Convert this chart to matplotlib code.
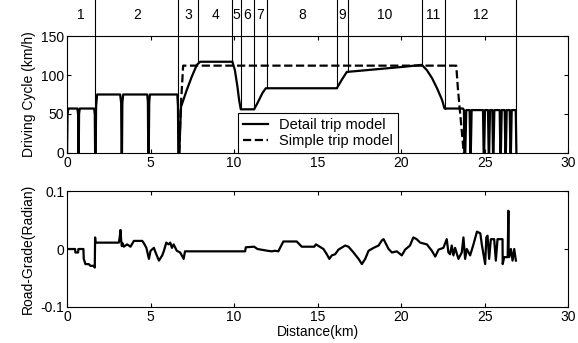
import numpy as np
import matplotlib
matplotlib.use("Agg")
import matplotlib.pyplot as plt

plt.rcParams['font.family'] = ['Liberation Sans', 'DejaVu Sans']

# detail trip model (distance km, speed km/h)
dist_detail = [0.0, 0.03, 0.08, 0.62, 0.66, 0.68, 0.70, 0.72, 0.76,
               1.62, 1.66, 1.68, 1.71, 1.74, 1.80,
               3.18, 3.24, 3.26, 3.29, 3.31, 3.36,
               4.80, 4.84, 4.86, 4.89, 4.92, 4.96,
               6.60, 6.64, 6.66, 6.72, 6.82, 7.17, 7.47, 7.77, 7.97,
               9.90, 10.05, 10.20, 10.30, 10.40,
               11.20, 11.40, 11.70, 11.90,
               16.15, 16.45, 16.75, 17.05, 20.14, 21.24,
               21.55, 21.85, 22.15, 22.45, 22.60,
               23.70, 23.76, 23.78, 23.84, 23.90,
               24.10, 24.14, 24.17, 24.22,
               24.90, 24.94, 24.97, 25.02,
               25.20, 25.24, 25.27, 25.32,
               25.46, 25.50, 25.53, 25.58,
               25.90, 25.94, 25.97, 26.02,
               26.20, 26.24, 26.27, 26.32,
               26.50, 26.54, 26.57, 26.62,
               26.86, 26.90]
speed_detail = [0, 50, 57, 57, 50, 0, 0, 50, 57,
                57, 50, 0, 0, 60, 75,
                75, 64, 0, 0, 64, 75,
                75, 65, 0, 0, 65, 75,
                75, 60, 0, 0, 59, 81, 98, 113, 117,
                117, 106, 85, 68, 56,
                56, 64, 77, 83,
                83, 94, 104, 104.5, 110.5, 113,
                106, 96, 83, 68, 57,
                57, 55, 0, 0, 55,
                55, 0, 0, 55,
                55, 0, 0, 55,
                55, 0, 0, 55,
                55, 0, 0, 55,
                55, 0, 0, 55,
                55, 0, 0, 55,
                55, 0, 0, 55,
                55, 0]

# simple trip model
dist_simple = [6.72, 6.80, 6.95, 23.30, 23.40, 23.75]
speed_simple = [0, 55, 112, 112, 82, 0]

# trip segments
seg_edges = [1.68, 6.67, 7.86, 9.90, 10.40, 11.20, 11.96, 16.15, 16.80, 21.24, 22.60, 26.90]
seg_labels = ['1', '2', '3', '4', '5', '6', '7', '8', '9', '10', '11', '12']

# road grade (distance km, grade rad)
dist_grade = [0.0, 0.48, 0.50, 0.66, 0.68, 0.98, 1.00, 1.10, 1.30, 1.40, 1.60, 1.66, 1.68,
              1.70, 3.10, 3.15, 3.20, 3.24, 3.28, 3.32, 3.40, 3.60, 3.80, 4.00, 4.50,
              4.60, 4.75, 4.90, 5.00, 5.20, 5.30, 5.50, 5.70, 5.80, 5.94, 6.08, 6.18,
              6.28, 6.38, 6.57, 6.77, 6.87, 6.98, 7.06, 10.66, 10.70, 11.20, 11.40,
              11.60, 12.00, 12.25, 12.45, 12.65, 12.77, 12.95, 13.75, 14.05, 14.80,
              14.90, 15.35, 15.55, 15.70, 15.85, 16.05, 16.25, 16.65, 16.85, 17.15,
              17.45, 17.65, 17.85, 18.05, 18.35, 18.65, 18.85, 18.95, 19.25, 19.45,
              19.74, 20.04, 20.24, 20.53, 20.73, 20.93, 21.14, 21.54, 21.84, 22.04,
              22.24, 22.53, 22.73, 22.83, 22.93, 23.03, 23.13, 23.23, 23.43, 23.63,
              23.73, 23.83, 23.93, 24.13, 24.33, 24.54, 24.74, 24.84, 25.03, 25.10,
              25.17, 25.27, 25.37, 25.57, 25.67, 25.77, 26.07, 26.08, 26.17, 26.38,
              26.42, 26.44, 26.47, 26.57, 26.67, 26.77, 26.87]
grade = [0.0, 0.0, -0.006, -0.006, 0.0, 0.0, -0.017, -0.026, -0.026, -0.029, -0.029,
         -0.032, 0.020,
         0.011, 0.011, 0.020, 0.033, 0.015, 0.005, 0.010, 0.004, 0.008, 0.004, 0.014,
         0.014, 0.010, 0.002, -0.017, -0.003, 0.002, -0.006, -0.020, -0.011, -0.003,
         0.011, 0.008, 0.011, 0.002, 0.008, -0.003, -0.006, -0.011, -0.017, -0.004,
         -0.004, 0.003, 0.004, 0.0, -0.001, -0.003, -0.004, -0.003, -0.004, 0.003,
         0.013, 0.013, 0.004, 0.004, 0.008, 0.0, -0.009, -0.017, -0.011, -0.009,
         -0.001, 0.006, 0.004, -0.006, -0.017, -0.026, -0.017, -0.003, 0.002, 0.006,
         0.015, 0.017, 0.0, -0.006, -0.004, -0.011, -0.001, 0.006, 0.020, 0.017,
         0.011, 0.008, -0.003, -0.013, -0.001, 0.002, 0.017, -0.006, -0.009, 0.006,
         -0.011, 0.002, -0.017, -0.006, 0.020, -0.017, 0.0, -0.011, 0.008, 0.030,
         0.027, 0.006, -0.026, 0.020, 0.023, -0.017, 0.017, 0.017, -0.020, 0.017,
         0.017, -0.026, -0.014, -0.014, 0.066, -0.014, -0.014, 0.0, -0.020, 0.0, -0.020]

fig = plt.figure(figsize=(5.78, 3.43), dpi=100)
ax1 = fig.add_axes([0.116, 0.554, 0.867, 0.341])
ax2 = fig.add_axes([0.116, 0.105, 0.867, 0.338])

# top panel
ax1.plot(dist_detail, speed_detail, color='black', lw=1.6, label='Detail trip model')
ax1.plot(dist_simple, speed_simple, color='black', lw=1.6, linestyle='--', label='Simple trip model')
ax1.set_xlim(0, 30)
ax1.set_ylim(0, 150)
ax1.set_xticks(range(0, 31, 5))
ax1.set_yticks([0, 50, 100, 150])
ax1.set_ylabel('Driving Cycle (km/h)', fontsize=10)

# segment lines run from the curve up to the top of the figure
pos = ax1.get_position()
y_top = 150 * (1 + (1 - pos.y1) / pos.height)
bottoms = np.interp(seg_edges, dist_detail, speed_detail)
for xe, yb in zip(seg_edges, bottoms):
    ax1.plot([xe, xe], [yb, y_top], color='black', lw=0.8, clip_on=False)
starts = [0] + seg_edges[:-1]
for a, b, lab in zip(starts, seg_edges, seg_labels):
    ax1.text((a + b) / 2, 1.18, lab, transform=ax1.get_xaxis_transform(),
             ha='center', va='center', fontsize=10)

leg = ax1.legend(loc='lower left', bbox_to_anchor=(0.341, 0.0), borderaxespad=0,
                 fancybox=False, framealpha=1, edgecolor='black', fontsize=10.5,
                 handlelength=1.7, handletextpad=0.8, borderpad=0.35, labelspacing=0.15)
leg.get_frame().set_linewidth(0.8)

# bottom panel
ax2.plot(dist_grade, grade, color='black', lw=1.6)
ax2.set_xlim(0, 30)
ax2.set_ylim(-0.1, 0.1)
ax2.set_xticks(range(0, 31, 5))
ax2.set_yticks([-0.1, 0, 0.1])
ax2.set_yticklabels(['-0.1', '0', '0.1'])
ax2.set_ylabel('Road-Grade(Radian)', fontsize=10)
ax2.set_xlabel('Distance(km)', fontsize=10, labelpad=1)

for ax in (ax1, ax2):
    ax.tick_params(direction='in', top=True, right=True, labelsize=10, length=3, pad=2)
    for sp in ax.spines.values():
        sp.set_linewidth(0.8)

fig.savefig('out.png', dpi=100)
